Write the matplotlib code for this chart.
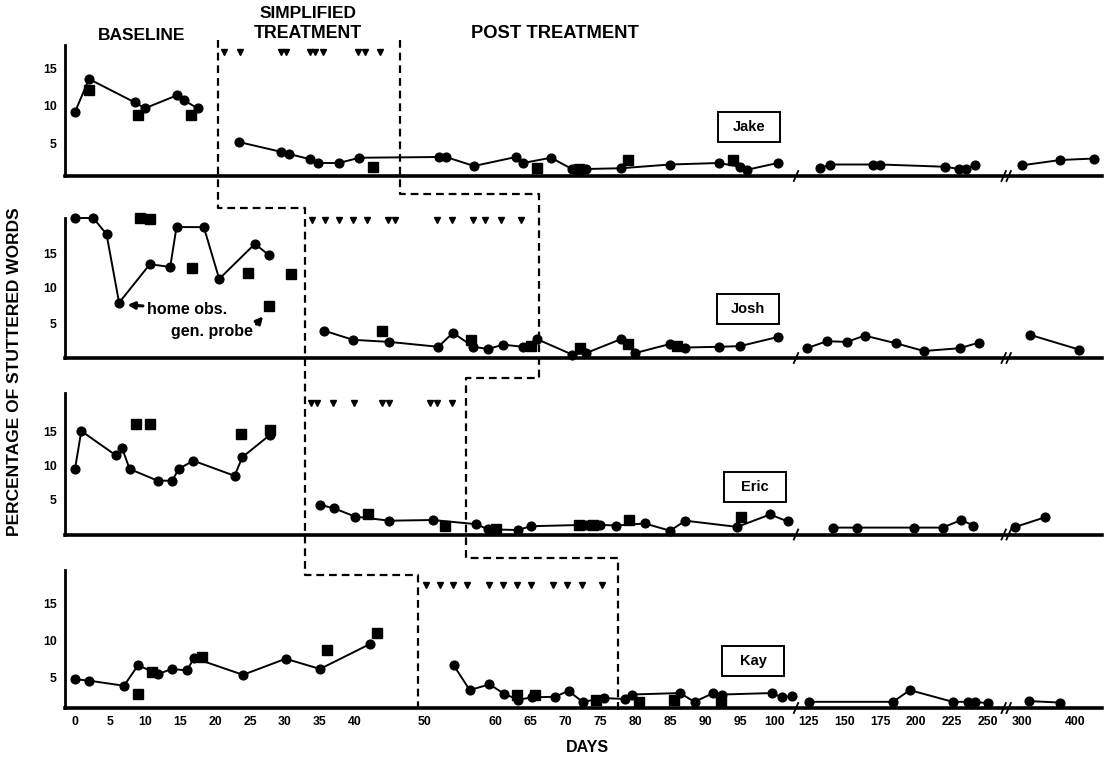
import numpy as np
import matplotlib
matplotlib.use("Agg")
import matplotlib.pyplot as plt
from matplotlib.patches import Rectangle

plt.rcParams['font.family'] = ['Liberation Sans', 'DejaVu Sans']
plt.rcParams['font.weight'] = 'bold'

# ---------------- data ----------------
subjects = ["Jake", "Josh", "Eric", "Kay"]

jake_base_days = [0, 2, 8.5, 10, 14.5, 15.5, 17.5]
jake_base_vals = [9.2, 13.6, 10.5, 9.7, 11.4, 10.8, 9.7]
jake_base_probe_days = [2, 9, 16.5]
jake_base_probe_vals = [12.1, 8.8, 8.8]
jake_trt_days = [23.4, 29.4, 30.6, 33.6, 34.7, 37.7, 40.6, 52, 53, 57, 63, 64, 68, 71, 73,
                 78, 85, 92, 95, 96, 100.4, 133, 140, 170, 175, 220, 230, 235, 241, 300, 372, 436]
jake_trt_vals = [5.2, 3.9, 3.6, 2.9, 2.4, 2.4, 3.1, 3.2, 3.2, 2.0, 3.2, 2.4, 3.1, 1.6, 1.6,
                 1.7, 2.2, 2.4, 1.9, 1.5, 2.4, 1.7, 2.2, 2.2, 2.2, 1.9, 1.6, 1.6, 2.2, 2.1, 2.8, 3.0]
jake_probe_days = [42.6, 66, 72, 79, 94]
jake_probe_vals = [1.9, 1.8, 1.6, 2.8, 2.8]
jake_tri_days = [21.3, 23.6, 29.4, 30.1, 33.6, 34.3, 35.4, 40.4, 41.4, 43.6]

josh_base_days = [0, 2.6, 4.5, 6.3, 10.7, 13.6, 14.5, 18.4, 20.6, 25.7, 27.7]
josh_base_vals = [20, 20, 17.7, 7.9, 13.4, 13.0, 18.7, 18.7, 11.3, 16.3, 14.7]
josh_base_probe_days = [9.3, 10.7, 16.7, 24.7, 27.7, 30.9]
josh_base_probe_vals = [20, 19.9, 12.9, 12.1, 7.4, 12.0]
josh_trt_days = [35.6, 39.7, 44.9, 51.9, 54, 56.9, 59, 61.2, 64, 66, 71, 73, 78, 80, 85, 87.2,
                 92, 95, 100.4, 123.6, 137.6, 151.5, 164, 185.8, 205.3, 230.4, 243.7, 315, 407.5]
josh_trt_vals = [3.9, 2.6, 2.3, 1.6, 3.6, 1.6, 1.3, 1.9, 1.6, 2.7, 0.5, 0.7, 2.7, 0.7, 2.0, 1.5,
                 1.6, 1.7, 3.0, 1.4, 2.4, 2.3, 3.2, 2.1, 1.0, 1.4, 2.2, 3.3, 1.2]
josh_probe_days = [43.9, 56.6, 65.1, 72.1, 79, 86]
josh_probe_vals = [3.9, 2.6, 1.7, 1.5, 2.0, 1.7]
josh_tri_days = [33.9, 35.7, 37.7, 39.7, 41.7, 44.7, 45.7, 51.7, 53.9, 56.9, 58.6, 60.9, 63.7]

eric_base_days = [0, 0.9, 5.8, 6.7, 7.8, 11.8, 13.9, 14.8, 16.9, 22.8, 23.9, 27.8]
eric_base_vals = [9.5, 15.0, 11.5, 12.6, 9.5, 7.8, 7.8, 9.5, 10.7, 8.5, 11.2, 14.4]
eric_base_probe_days = [8.7, 10.7, 23.7, 27.8]
eric_base_probe_vals = [16.0, 16.0, 14.5, 15.2]
eric_trt_days = [35, 37, 40, 44.9, 51.1, 57.3, 59, 63.3, 65.1, 73, 75, 77.3, 81.4, 85, 87.2,
                 94.6, 99.3, 101.8, 142, 158.4, 198.6, 218.3, 231.4, 239.8, 287, 343]
eric_trt_vals = [4.3, 3.8, 2.6, 2.0, 2.1, 1.5, 0.75, 0.65, 1.2, 1.4, 1.4, 1.3, 1.6, 0.55, 2.0,
                 1.1, 2.9, 1.9, 1.0, 1.0, 1.0, 1.0, 2.1, 1.3, 1.1, 2.5]
eric_probe_days = [41.9, 52.9, 60.2, 72, 74, 79.1, 95.1]
eric_probe_vals = [2.9, 1.3, 0.8, 1.4, 1.4, 2.1, 2.5]
eric_tri_days = [33.7, 34.5, 36.8, 39.8, 43.8, 44.8, 50.7, 51.7, 53.9]

kay_base_days = [0, 2, 7, 9, 11.9, 13.8, 16, 17, 24, 30.1, 35, 42.1]
kay_base_vals = [4.7, 4.5, 3.8, 6.6, 5.4, 6.1, 5.9, 7.6, 5.3, 7.5, 6.1, 9.5]
kay_base_probe_days = [9, 11, 18.1, 36, 43.1]
kay_base_probe_vals = [2.7, 5.7, 7.8, 8.7, 11.0]
kay_trt_days = [54.1, 56.4, 59.2, 61.3, 63.3, 65.3, 68.6, 70.5, 72.5, 75.6, 78.5, 79.5, 86.4,
                88.5, 91.2, 92.4, 99.5, 101, 102.4, 124.8, 183.7, 195.5, 225.4, 236, 241.2,
                250.2, 312.6, 371]
kay_trt_vals = [6.6, 3.2, 4.0, 2.7, 1.9, 2.2, 2.3, 3.1, 1.6, 2.1, 2.0, 2.6, 2.8, 1.6, 2.8, 2.6,
                2.8, 2.2, 2.4, 1.6, 1.6, 3.2, 1.6, 1.6, 1.6, 1.4, 1.7, 1.5]
kay_probe_days = [63.2, 65.7, 74.4, 80.6, 85.5, 92.3]
kay_probe_vals = [2.5, 2.6, 1.9, 1.6, 1.8, 1.6]
kay_tri_days = [50.2, 52.1, 54.0, 56.0, 59.2, 61.2, 63.1, 65.1, 68.3, 70.3, 72.4, 75.3]

# phase change days (dashed staircase lines)
treat_start_days = [20.4, 32.9, 32.9, 49.0]
post_start_days = [46.4, 66.3, 55.9, 77.6]

x_tick_days = [0, 5, 10, 15, 20, 25, 30, 35, 40, 50, 60, 65, 70, 75, 80, 85, 90, 95, 100,
               125, 150, 175, 200, 225, 250, 300, 400]
x_tick_labels = [str(v) for v in x_tick_days]
y_tick_vals = [5, 10, 15]

data = {
    "Jake": (jake_base_days, jake_base_vals, jake_base_probe_days, jake_base_probe_vals,
             jake_trt_days, jake_trt_vals, jake_probe_days, jake_probe_vals, jake_tri_days),
    "Josh": (josh_base_days, josh_base_vals, josh_base_probe_days, josh_base_probe_vals,
             josh_trt_days, josh_trt_vals, josh_probe_days, josh_probe_vals, josh_tri_days),
    "Eric": (eric_base_days, eric_base_vals, eric_base_probe_days, eric_base_probe_vals,
             eric_trt_days, eric_trt_vals, eric_probe_days, eric_probe_vals, eric_tri_days),
    "Kay": (kay_base_days, kay_base_vals, kay_base_probe_days, kay_base_probe_vals,
            kay_trt_days, kay_trt_vals, kay_probe_days, kay_probe_vals, kay_tri_days),
}

# ---------------- broken x scale ----------------
knot_days = np.array([-5, 103, 116.3, 262.6, 269.8, 470])
knot_pos = np.array([-35, 721, 721.4, 931, 931.4, 1037.1])
break_days = [103.1, 266.0]


def fwd(d):
    return np.interp(np.asarray(d, dtype=float), knot_days, knot_pos)


def inv(p):
    return np.interp(np.asarray(p, dtype=float), knot_pos, knot_days)


def seg_of(d):
    return 0 if d < 110 else (1 if d < 266 else 2)


W, H = 1109, 763
ORIGIN_PX = 75          # pixel of day 0
LEFT_PX, RIGHT_PX = 65, 1102

fig = plt.figure(figsize=(W / 100, H / 100), dpi=100)

# panel layout: bottom px, top px, pixel of value 0, pixels per unit, triangle level
layout = {
    "Jake": (176, 45, 181, 7.5, 17.2),
    "Josh": (358, 218, 358, 7.0, 19.7),
    "Eric": (534.5, 393, 534.5, 6.9, 19.1),
    "Kay": (708, 570, 713.5, 7.3, 17.6),
}
box_centers = {"Jake": (749, 127), "Josh": (748, 309), "Eric": (755, 487), "Kay": (753, 661)}

xlim = (float(inv(LEFT_PX - ORIGIN_PX)), float(inv(RIGHT_PX - ORIGIN_PX)))

axes = {}
for name in subjects:
    bpx, tpx, zpx, ppu, tri_lvl = layout[name]
    ax = fig.add_axes([LEFT_PX / W, 1 - bpx / H, (RIGHT_PX - LEFT_PX) / W, (bpx - tpx) / H])
    ax.set_facecolor('none')
    ax.set_xscale('function', functions=(fwd, inv))
    ax.set_xlim(*xlim)
    ax.set_ylim((zpx - bpx) / ppu, (zpx - tpx) / ppu)
    for s in ['top', 'right']:
        ax.spines[s].set_visible(False)
    ax.spines['left'].set_linewidth(2.0)
    ax.spines['bottom'].set_linewidth(2.6)
    ax.set_yticks(y_tick_vals)
    ax.set_yticklabels([str(v) for v in y_tick_vals], fontsize=8.8, fontweight='bold')
    ax.tick_params(axis='both', length=0, pad=6)
    ax.minorticks_off()
    if name == "Kay":
        ax.set_xticks(x_tick_days)
        ax.set_xticklabels(x_tick_labels, fontsize=8.8, fontweight='bold')
        ax.tick_params(axis='x', pad=6)
    else:
        ax.set_xticks([])

    bd, bv, bpd, bpv, td, tv, pd_, pv, tri = data[name]
    ax.plot(bd, bv, '-o', color='black', lw=1.4, ms=6.3, clip_on=False, zorder=3)
    ax.plot(bpd, bpv, 's', color='black', ms=6.6, clip_on=False, zorder=3)
    segs = {}
    for d, v in zip(td, tv):
        segs.setdefault(seg_of(d), []).append((d, v))
    for k, pts in segs.items():
        xs, ys = zip(*pts)
        ax.plot(xs, ys, '-o', color='black', lw=1.4, ms=6.3, clip_on=False, zorder=3)
    ax.plot(pd_, pv, 's', color='black', ms=6.6, clip_on=False, zorder=3)
    ax.plot(tri, [tri_lvl] * len(tri), 'v', color='black', ms=3.8, clip_on=False, zorder=3)
    axes[name] = ax

# annotation in Josh panel
axj = axes["Josh"]
axj.annotate("home obs.", xy=(7.3, 7.6), xytext=(10.3, 7.0), fontsize=11.5, fontweight='bold',
             ha='left', va='center',
             arrowprops=dict(arrowstyle='-|>', color='black', lw=2.2, mutation_scale=10,
                             shrinkA=1, shrinkB=1))
axj.annotate("gen. probe", xy=(27.0, 6.1), xytext=(25.4, 3.8), fontsize=11.5, fontweight='bold',
             ha='right', va='center',
             arrowprops=dict(arrowstyle='-|>', color='black', lw=2.2, mutation_scale=10,
                             shrinkA=1, shrinkB=1, relpos=(1.0, 0.7)))

# ---------------- overlay in pixel coordinates ----------------
ov = fig.add_axes([0, 0, 1, 1])
ov.set_xlim(0, W)
ov.set_ylim(H, 0)
ov.axis('off')
ov.set_facecolor('none')


def px(d):
    return ORIGIN_PX + float(fwd(d))


# staircase dashed lines
gap_y1 = [208, 575]
gap_y2 = [194, 378, 558]
top_y, bot_y = 40, 712
t = treat_start_days
xs1 = [px(t[0]), px(t[0]), px(t[1]), px(t[2]), px(t[3]), px(t[3])]
ys1 = [top_y, gap_y1[0], gap_y1[0], gap_y1[1], gap_y1[1], bot_y]
p = post_start_days
xs2 = [px(p[0]), px(p[0]), px(p[1]), px(p[1]), px(p[2]), px(p[2]), px(p[3]), px(p[3])]
ys2 = [top_y, gap_y2[0], gap_y2[0], gap_y2[1], gap_y2[1], gap_y2[2], gap_y2[2], bot_y]
for xs, ys in [(xs1, ys1), (xs2, ys2)]:
    ov.plot(xs, ys, color='black', lw=1.6, dashes=(3.5, 2.2), solid_capstyle='butt')

# axis break marks
for name in subjects:
    bpx = layout[name][0]
    for bi, bdy in enumerate(break_days):
        bx = px(bdy)
        offs = [0] if bi == 0 else [-2.5, 2.5]
        for o in offs:
            ov.plot([bx + o - 2.2, bx + o + 2.2], [bpx + 5, bpx - 5], color='black', lw=1.3)

# name boxes
for name in subjects:
    cx, cy = box_centers[name]
    ov.add_patch(Rectangle((cx - 31, cy - 15), 62, 30, fill=True, fc='white', ec='black', lw=1.4))
    ov.text(cx, cy, name, ha='center', va='center', fontsize=10.5, fontweight='bold')

# titles
ov.text(142, 36, "BASELINE", ha='center', va='center', fontsize=12.5, fontweight='bold')
ov.text(308, 13, "SIMPLIFIED", ha='center', va='center', fontsize=12.5, fontweight='bold')
ov.text(308, 34, "TREATMENT", ha='center', va='center', fontsize=12.8, fontweight='bold')
ov.text(555, 33, "POST TREATMENT", ha='center', va='center', fontsize=13.2, fontweight='bold')
ov.text(587, 748, "DAYS", ha='center', va='center', fontsize=11.5, fontweight='bold')
ov.text(15, 372, "PERCENTAGE OF STUTTERED WORDS", ha='center', va='center', rotation=90,
        fontsize=12.5, fontweight='bold')

fig.savefig("out.png", dpi=100)
